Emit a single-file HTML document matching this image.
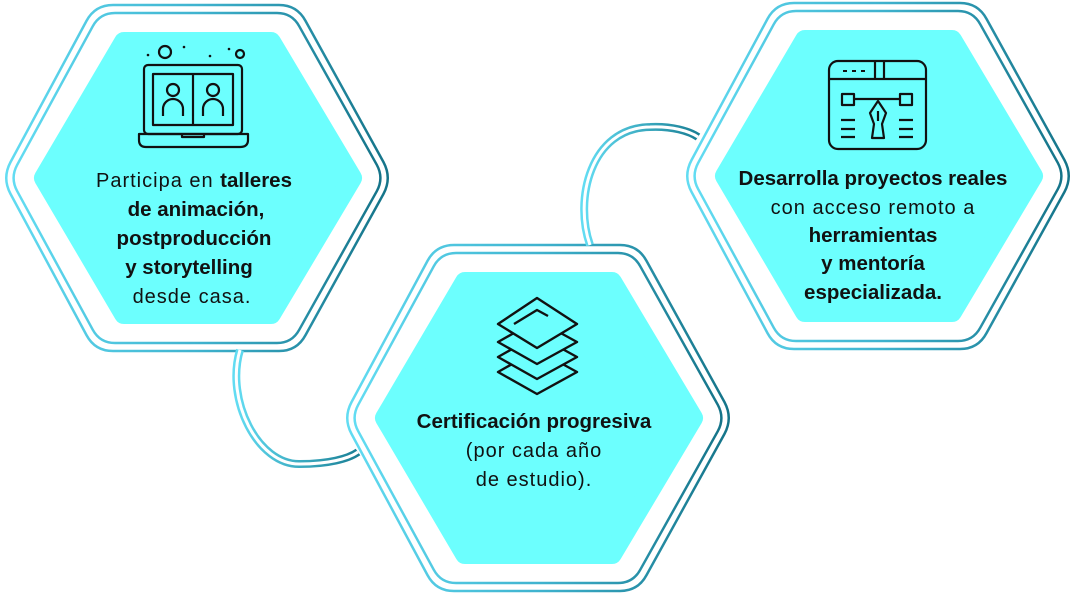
<!DOCTYPE html>
<html><head><meta charset="utf-8"><style>
html,body{margin:0;padding:0;background:#fff}
svg{display:block}
text{font-family:"Liberation Sans",sans-serif;font-size:20px;fill:#111;text-anchor:middle;letter-spacing:1px}
.b{font-weight:bold;font-size:20.5px;letter-spacing:0}
</style></head><body>
<svg width="1075" height="596" viewBox="0 0 1075 596" xmlns="http://www.w3.org/2000/svg">
<defs>
<linearGradient id="g" x1="0" y1="0" x2="1" y2="0">
<stop offset="0" stop-color="#62dcf2"/><stop offset="0.5" stop-color="#3fb3cf"/><stop offset="1" stop-color="#157489"/>
</linearGradient>
<linearGradient id="ga" x1="0" y1="0" x2="1" y2="0">
<stop offset="0" stop-color="#62dcf2"/><stop offset="1" stop-color="#1a7f95"/>
</linearGradient>
<g id="hex">
<path d="M10.5,162.1 L86.5,20.9 Q95,5 113,5 L279,5 Q297,5 305.5,20.9 L383.5,162.1 Q392,178 383.5,193.9 L305.5,335.1 Q297,351 279,351 L113,351 Q95,351 86.5,335.1 L10.5,193.9 Q2,178 10.5,162.1 Z" fill="#fff" stroke="url(#g)" stroke-width="2.5"/>
<path d="M17.2,164.8 L92.8,26.2 Q100,13 115,13 L277,13 Q292,13 299.2,26.2 L376.8,164.8 Q384,178 376.8,191.2 L299.2,329.8 Q292,343 277,343 L115,343 Q100,343 92.8,329.8 L17.2,191.2 Q10,178 17.2,164.8 Z" fill="none" stroke="url(#g)" stroke-width="2.5"/>
<path d="M44,178 L124,42 L271,42 L352,178 L271,314 L124,314 Z" fill="#6cfffe" stroke="#6cfffe" stroke-width="20" stroke-linejoin="round"/>
</g>
</defs>
<use href="#hex"/>
<use href="#hex" transform="translate(341,240)"/>
<use href="#hex" transform="translate(681,-2)"/>
<!-- connectors -->
<path d="M240,350 C225,400 258,465 300,464 C328,464 348,459 358,452" fill="none" stroke="url(#ga)" stroke-width="8"/>
<path d="M240,350 C225,400 258,465 300,464 C328,464 348,459 358,452" fill="none" stroke="#fff" stroke-width="3"/>
<path d="M590,245 C574,200 590,128 650,127 C672,126 689,131 698,137" fill="none" stroke="url(#ga)" stroke-width="8"/>
<path d="M590,245 C574,200 590,128 650,127 C672,126 689,131 698,137" fill="none" stroke="#fff" stroke-width="3"/>
<!-- laptop icon -->
<g fill="none" stroke="#111" stroke-width="2.2" stroke-linejoin="round">
<rect x="144" y="65" width="98" height="69" rx="4"/>
<rect x="153" y="74" width="80" height="51"/>
<line x1="193" y1="74" x2="193" y2="125"/>
<path d="M139,134 H248 V140 Q248,147 240,147 H146 Q139,147 139,140 Z"/>
<path d="M182,134 v3 h22 v-3"/>
<circle cx="173" cy="90" r="6"/><path d="M163,116 v-7 a10,10 0 0 1 20,0 v7"/>
<circle cx="213" cy="90" r="6"/><path d="M203,116 v-7 a10,10 0 0 1 20,0 v7"/>
<circle cx="165" cy="52" r="6"/><circle cx="240" cy="54" r="4"/>
</g>
<g fill="#111"><circle cx="148" cy="55" r="1.3"/><circle cx="184" cy="47" r="1.3"/><circle cx="210" cy="56" r="1.3"/><circle cx="229" cy="49" r="1.3"/></g>
<text x="194" y="187">Participa en <tspan class="b">talleres</tspan></text>
<text x="196" y="216" class="b">de animación,</text>
<text x="194" y="245" class="b">postproducción</text>
<text x="189" y="274" class="b">y storytelling</text>
<text x="192" y="303">desde casa.</text>
<!-- layers icon -->
<g fill="none" stroke="#111" stroke-width="2.4" stroke-linejoin="round">
<path d="M498,372 L537,350 L577,372 L537,394 Z"/>
<path d="M498,357 L537,335 L577,357 L537,379 Z" fill="#6cfffe"/>
<path d="M498,342 L537,320 L577,342 L537,364 Z" fill="#6cfffe"/>
<path d="M498,324 L537,298 L577,324 L537,348 Z" fill="#6cfffe"/>
<path d="M514,324 L537,310 L548,316"/>
</g>
<text x="534" y="428" class="b">Certificación progresiva</text>
<text x="534" y="457">(por cada año</text>
<text x="534" y="486">de estudio).</text>
<!-- design icon -->
<g fill="none" stroke="#111" stroke-width="2.2" stroke-linejoin="round">
<rect x="829" y="61" width="97" height="88" rx="9"/>
<line x1="829" y1="79" x2="926" y2="79"/>
<line x1="875" y1="61" x2="875" y2="79"/><line x1="884" y1="61" x2="884" y2="79"/>
<rect x="842" y="94" width="12" height="11"/><rect x="900" y="94" width="12" height="11"/>
<line x1="854" y1="99" x2="900" y2="99"/>
<path d="M878,101 L870,113 L874,124 L872,138 L884,138 L882,124 L886,113 Z"/>
<line x1="878" y1="111" x2="878" y2="121"/>
<path d="M841,120 h14 M841,129 h14 M841,137 h14 M899,120 h14 M899,129 h14 M899,137 h14"/>
</g>
<g fill="#111"><rect x="843" y="70" width="4" height="2"/><rect x="852" y="70" width="4" height="2"/><rect x="861" y="70" width="4" height="2"/></g>
<text x="873" y="185" class="b">Desarrolla proyectos reales</text>
<text x="873" y="214">con acceso remoto a</text>
<text x="873" y="242" class="b">herramientas</text>
<text x="873" y="270" class="b">y mentoría</text>
<text x="873" y="299" class="b">especializada.</text>
</svg>
</body></html>
